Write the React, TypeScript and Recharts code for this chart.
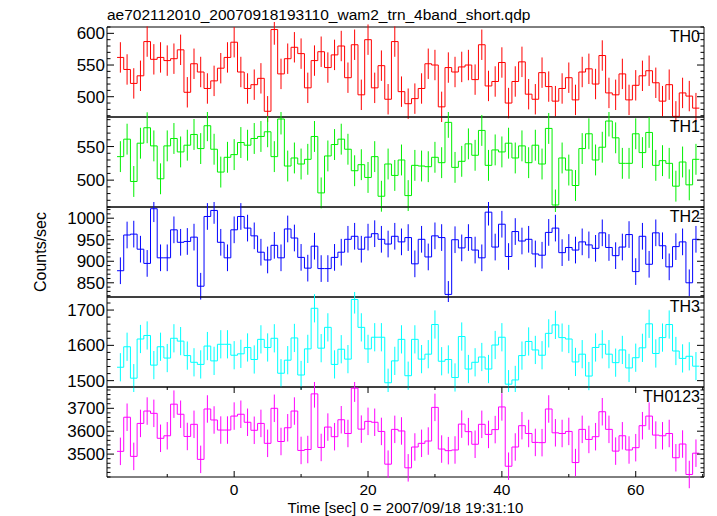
import React from "react";
import { ComposedChart, Line, Scatter, ErrorBar, XAxis, YAxis, ReferenceArea } from "recharts";

// bin centres (1 s bins), seconds since 2007/09/18 19:31:10
const TIME = [
  -17, -16, -15, -14, -13, -12, -11, -10, -9, -8, -7, -6, -5, -4, -3, -2, -1,
  0, 1, 2, 3, 4, 5, 6, 7, 8, 9, 10, 11, 12, 13, 14, 15, 16, 17, 18, 19, 20,
  21, 22, 23, 24, 25, 26, 27, 28, 29, 30, 31, 32, 33, 34, 35, 36, 37, 38, 39, 40,
  41, 42, 43, 44, 45, 46, 47, 48, 49, 50, 51, 52, 53, 54, 55, 56, 57, 58, 59, 60,
  61, 62, 63, 64, 65, 66, 67, 68, 69,
];
const BIN = 1;

const TH0 = [
  562, 543, 521, 533, 587, 559, 562, 557, 560, 574, 507, 552, 539, 513, 525, 545, 562,
  586, 539, 513, 519, 529, 477, 606, 536, 560, 578, 568, 514, 557, 571, 546, 566, 580, 530, 582, 503, 590,
  514, 549, 496, 587, 508, 489, 497, 513, 552, 550, 484, 546, 539, 547, 550, 527, 582, 517, 524, 554,
  490, 524, 555, 504, 496, 538, 516, 493, 513, 530, 495, 539, 544, 520, 565, 506, 503, 536, 495, 518,
  533, 541, 522, 493, 519, 469, 506, 501, 482,
];
const TH1 = [
  535, 561, 498, 555, 578, 551, 502, 551, 562, 542, 552, 568, 547, 581, 546, 512, 534,
  538, 556, 552, 562, 565, 572, 535, 591, 521, 533, 524, 531, 565, 481, 536, 553, 561, 546, 514, 523, 504,
  535, 476, 524, 507, 530, 477, 522, 521, 520, 534, 526, 586, 519, 528, 554, 537, 574, 522, 545, 542,
  555, 533, 551, 526, 552, 524, 577, 463, 533, 515, 492, 547, 569, 530, 549, 588, 563, 525, 525, 569,
  541, 571, 522, 529, 525, 491, 527, 493, 531,
];
const TH2 = [
  878, 961, 963, 928, 895, 1022, 908, 908, 973, 944, 946, 956, 842, 1004, 1018, 944, 908,
  973, 1004, 977, 959, 921, 903, 937, 908, 975, 954, 909, 884, 935, 883, 883, 909, 921, 951, 958, 928, 956,
  964, 951, 940, 958, 945, 955, 894, 951, 910, 959, 955, 823, 950, 931, 955, 926, 908, 1014, 933, 986,
  911, 969, 947, 951, 917, 914, 967, 977, 920, 932, 926, 945, 938, 930, 966, 932, 913, 933, 962, 876,
  958, 893, 966, 936, 887, 934, 945, 850, 951,
];
const TH3 = [
  1538, 1596, 1507, 1618, 1628, 1544, 1596, 1564, 1620, 1612, 1571, 1552, 1546, 1598, 1556, 1603, 1603,
  1572, 1576, 1594, 1560, 1617, 1594, 1620, 1521, 1558, 1621, 1516, 1590, 1705, 1592, 1651, 1546, 1589, 1561, 1730, 1651, 1590,
  1623, 1623, 1494, 1556, 1617, 1514, 1617, 1561, 1575, 1659, 1555, 1560, 1509, 1625, 1533, 1552, 1567, 1533, 1601, 1623,
  1490, 1502, 1571, 1611, 1587, 1572, 1634, 1658, 1622, 1618, 1553, 1575, 1513, 1594, 1603, 1575, 1551, 1587, 1536, 1565,
  1593, 1661, 1577, 1622, 1659, 1584, 1563, 1569, 1541,
];
const TH0123 = [
  3512, 3661, 3490, 3634, 3688, 3678, 3569, 3580, 3718, 3674, 3577, 3630, 3477, 3697, 3649, 3605, 3605,
  3666, 3674, 3639, 3604, 3634, 3547, 3700, 3555, 3615, 3688, 3516, 3520, 3763, 3529, 3618, 3576, 3650, 3590, 3788, 3609, 3643,
  3639, 3599, 3456, 3608, 3601, 3440, 3531, 3547, 3557, 3704, 3522, 3515, 3518, 3631, 3598, 3543, 3630, 3586, 3607, 3706,
  3447, 3531, 3624, 3590, 3551, 3550, 3697, 3593, 3590, 3599, 3463, 3608, 3564, 3576, 3685, 3608, 3513, 3580, 3518, 3528,
  3624, 3666, 3583, 3580, 3590, 3484, 3544, 3411, 3504,
];

const X_DOMAIN = [-19, 70.2];
const X_TICKS = [-10, 0, 10, 20, 30, 40, 50, 60, 70];
const X_LABELS = [0, 20, 40, 60];

const W = 717;
const PLOT_LEFT = 107;
const PLOT_RIGHT = 704;
const PANEL_TOP = 27;
const PANEL_H = 90;
const FONT = '"Liberation Sans", Arial, Helvetica, sans-serif';

const PANELS = [
  { name: "TH0", values: TH0, color: "#ff0000", err: 24, domain: [468, 610], labels: [500, 550, 600], minor: 10 },
  { name: "TH1", values: TH1, color: "#00f000", err: 23, domain: [460, 594], labels: [500, 550], minor: 10 },
  { name: "TH2", values: TH2, color: "#0000ff", err: 31, domain: [817, 1026], labels: [850, 900, 950, 1000], minor: 10 },
  { name: "TH3", values: TH3, color: "#00ffff", err: 40, domain: [1482, 1737], labels: [1500, 1600, 1700], minor: 20 },
  { name: "TH0123", values: TH0123, color: "#ff00ff", err: 60, domain: [3400, 3793], labels: [3500, 3600, 3700], minor: 20 },
];

function yTicks(domain: number[], step: number) {
  const out: number[] = [];
  for (let v = Math.ceil(domain[0] / step) * step; v <= domain[1]; v += step) out.push(v);
  return out;
}

function makeYTick(labels: number[]) {
  return (p: any) => {
    const { x, y, payload } = p;
    const v = payload.value;
    const major = labels.includes(v);
    const len = major ? 7 : 3.5;
    const right = x + (PLOT_RIGHT - PLOT_LEFT);
    return (
      <g>
        <line x1={x} x2={x + len} y1={y} y2={y} stroke="#000" />
        <line x1={right} x2={right - len} y1={y} y2={y} stroke="#000" />
        {major && (
          <text x={x - 2} y={y} dy="0.36em" textAnchor="end" fontSize={17} fontFamily={FONT} fill="#000">
            {v}
          </text>
        )}
      </g>
    );
  };
}

function makeXTick(showLabels: boolean) {
  return (p: any) => {
    const { x, y, payload } = p;
    const v = payload.value;
    const major = X_LABELS.includes(v);
    const len = major ? 6 : 3;
    return (
      <g>
        <line x1={x} x2={x} y1={y} y2={y - len} stroke="#000" />
        <line x1={x} x2={x} y1={y - PANEL_H} y2={y - PANEL_H + len} stroke="#000" />
        {showLabels && major && (
          <text x={x} y={y + 18} textAnchor="middle" fontSize={15.5} fontFamily={FONT} fill="#000">
            {v}
          </text>
        )}
      </g>
    );
  };
}

function Panel({ idx, panel, last }: { idx: number; panel: (typeof PANELS)[number]; last: boolean }) {
  const mt = 5;
  const mb = last ? 0 : 5;
  const xh = last ? 39 : 0;
  const steps = TIME.map((t, i) => ({ x: t - BIN / 2, y: panel.values[i] }));
  steps.push({ x: TIME[TIME.length - 1] + BIN / 2, y: panel.values[panel.values.length - 1] });
  const pts = TIME.map((t, i) => ({ x: t, y: panel.values[i], e: panel.err }));
  return (
    <div style={{ position: "absolute", left: 0, top: PANEL_TOP + idx * PANEL_H - mt }}>
      <ComposedChart width={W} height={mt + PANEL_H + xh + mb} margin={{ top: mt, right: W - PLOT_RIGHT, bottom: mb, left: 0 }}>
        <XAxis
          type="number"
          dataKey="x"
          domain={X_DOMAIN}
          allowDataOverflow
          ticks={X_TICKS}
          interval={0}
          height={xh}
          tickSize={0}
          tickMargin={0}
          axisLine={false}
          tick={makeXTick(last)}
          label={
            last
              ? { value: "Time [sec] 0 = 2007/09/18 19:31:10", position: "insideBottom", offset: 3, fontSize: 15, fill: "#000", fontFamily: FONT }
              : undefined
          }
        />
        <YAxis
          type="number"
          domain={panel.domain}
          allowDataOverflow
          ticks={yTicks(panel.domain, panel.minor)}
          interval={0}
          width={PLOT_LEFT}
          tickSize={0}
          tickMargin={0}
          axisLine={false}
          tick={makeYTick(panel.labels)}
          label={
            idx === 2
              ? { value: "Counts/sec", angle: -90, position: "insideLeft", offset: 40, fontSize: 16, fill: "#000", fontFamily: FONT, style: { textAnchor: "middle" } }
              : undefined
          }
        />
        <Scatter data={pts} dataKey="y" fill={panel.color} shape={() => <g />} isAnimationActive={false}>
          <ErrorBar dataKey="e" direction="y" width={0} stroke={panel.color} strokeWidth={1} isAnimationActive={false} />
        </Scatter>
        <Line data={steps} dataKey="y" type="stepAfter" stroke={panel.color} strokeWidth={1} dot={false} isAnimationActive={false} />
        <ReferenceArea
          x1={X_DOMAIN[0]}
          x2={X_DOMAIN[1]}
          y1={panel.domain[0]}
          y2={panel.domain[1]}
          fill="none"
          stroke="#000"
          strokeWidth={1}
          label={{ value: panel.name, position: "insideTopRight", offset: 4, fontSize: 16, fill: "#000", fontFamily: FONT }}
        />
      </ComposedChart>
    </div>
  );
}

export default function App() {
  return (
    <div style={{ position: "absolute", left: 0, top: 0, width: W, height: 516, background: "#fff", overflow: "hidden" }}>
      <svg width={W} height={26} style={{ position: "absolute", left: 0, top: 0 }}>
        <text x={PLOT_LEFT} y={20} fontSize={15.5} fontFamily={FONT} fill="#000">
          ae702112010_20070918193110_wam2_trn_4band_short.qdp
        </text>
      </svg>
      {PANELS.map((p, i) => (
        <Panel key={p.name} idx={i} panel={p} last={i === PANELS.length - 1} />
      ))}
    </div>
  );
}
